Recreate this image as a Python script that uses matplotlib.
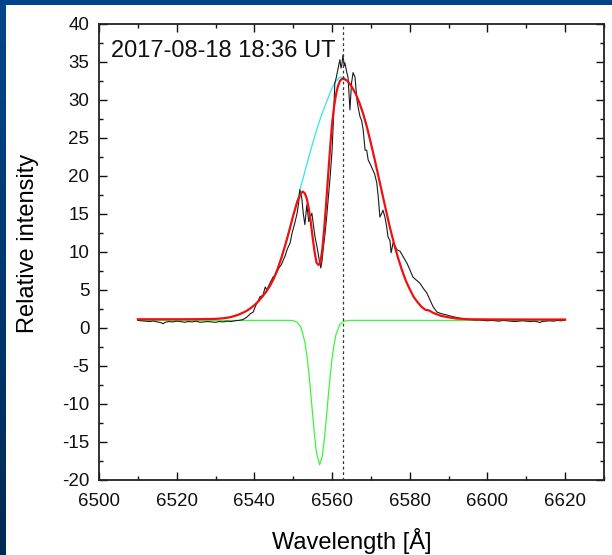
import numpy as np
import matplotlib
matplotlib.use("Agg")
import matplotlib.pyplot as plt
from matplotlib.ticker import MultipleLocator
from matplotlib.colors import LinearSegmentedColormap

plt.rcParams['font.family'] = ['Liberation Sans', 'DejaVu Sans']
plt.rcParams['axes.unicode_minus'] = False

# ---- observed spectrum (black) ----
obs_wl = [6510, 6511, 6512, 6513, 6514, 6515, 6516, 6516.5, 6517, 6518, 6519, 6520,
          6521, 6522, 6523, 6524, 6525, 6526, 6527, 6528, 6529, 6530, 6531, 6532,
          6533, 6534, 6535, 6536, 6537, 6538, 6539, 6539.7, 6540.3, 6541, 6541.4,
          6542.2, 6542.8, 6543.2, 6544, 6544.8, 6545.5, 6546.2, 6547, 6547.4, 6548,
          6548.4, 6549.2, 6549.7, 6550.3, 6551, 6551.4, 6551.7, 6552.2, 6552.6, 6553,
          6553.5, 6554, 6554.3, 6554.8, 6555.2, 6555.6, 6556, 6556.4, 6556.8, 6557.1,
          6557.4, 6557.7, 6558.2, 6558.6, 6559.1, 6559.5, 6560, 6560.4, 6560.7, 6561.1,
          6561.5, 6562, 6562.3, 6562.5, 6562.8, 6563.1, 6563.3, 6563.8, 6564.1, 6564.4,
          6564.6, 6564.8, 6565, 6565.4, 6565.9, 6566.4, 6566.8, 6567.2, 6567.6, 6568,
          6568.5, 6568.9, 6569.3, 6569.8, 6570.5, 6571, 6571.5, 6571.9, 6572.3, 6572.8,
          6573.1, 6573.6, 6574, 6574.4, 6574.9, 6575.2, 6575.7, 6576.2, 6576.7, 6577.5,
          6578.4, 6579.3, 6580, 6580.8, 6581.7, 6582.6, 6583.5, 6584.4, 6585.2, 6586,
          6587, 6588, 6589.6, 6591, 6592.9, 6594, 6595, 6596, 6597, 6598, 6599, 6600,
          6601, 6602, 6603, 6604, 6605, 6606, 6607, 6608, 6609, 6610, 6611, 6612, 6613,
          6613.5, 6614, 6615, 6616, 6617, 6618, 6619, 6620]
obs_int = [1.00, 0.95, 0.90, 0.85, 0.92, 0.80, 0.70, 0.55, 0.75, 0.85, 0.80, 0.90,
           0.85, 0.75, 0.85, 0.80, 0.90, 0.75, 0.80, 0.85, 0.80, 0.75, 0.85, 0.80,
           0.90, 0.85, 0.95, 1.00, 1.10, 1.40, 1.90, 2.1, 2.9, 3.6, 4.1,
           4.3, 5.4, 5.0, 5.9, 6.7, 7.0, 7.8, 8.4, 8.9, 9.6,
           10.3, 11.2, 12.5, 13.6, 15.1, 16.5, 18.2, 17.1, 15.0, 13.6,
           16.2, 14.0, 14.5, 15.1, 13.5, 12.0, 11.0, 9.9, 8.6, 7.9,
           8.8, 10.3, 12.5, 14.6, 17.5, 19.9, 23.4, 28.0, 32.2, 33.0,
           34.0, 35.3, 34.2, 34.6, 35.9, 34.5, 34.9, 33.6, 33.0, 30.5,
           28.7, 30.5, 32.2, 33.6, 33.0, 30.0, 28.8, 27.8, 27.3, 26.1,
           23.4, 23.4, 22.1, 21.6, 20.8, 20.2, 19.1, 17.2, 14.6, 15.1,
           15.5, 14.6, 13.5, 12.0, 11.5, 9.9, 11.2, 10.8, 10.3, 10.1,
           9.3, 8.5, 7.7, 6.7, 6.3, 5.9, 5.2, 4.6, 3.7, 2.8,
           2.1, 1.9, 1.7, 1.5, 1.3, 1.2, 1.15, 1.1, 1.05, 1.05, 1.0, 0.95,
           1.0, 0.95, 0.9, 1.0, 0.95, 0.9, 0.85, 0.9, 0.95, 0.9, 0.85, 0.9, 0.8,
           0.7, 0.85, 0.9, 0.95, 0.9, 1.0, 0.95, 1.05]

# ---- total fit (red) ----
fit_wl = [6510, 6515, 6520, 6525, 6530, 6532, 6533, 6534, 6535, 6536, 6537, 6538,
          6539, 6540, 6541, 6542, 6543, 6544, 6545, 6546, 6547, 6548, 6549, 6550,
          6551, 6552, 6552.5, 6553, 6553.5, 6554, 6554.5, 6555, 6555.5, 6556, 6556.5,
          6557, 6557.5, 6558, 6558.5, 6559, 6559.5, 6560, 6560.5, 6561, 6561.5, 6562,
          6562.5, 6563, 6564, 6565, 6566, 6567, 6568, 6569, 6570, 6571, 6572, 6573,
          6574, 6575, 6576, 6577, 6578, 6579, 6580, 6581, 6582, 6583, 6584, 6585,
          6586, 6587, 6588, 6589, 6590, 6592, 6595, 6600, 6610, 6620]
fit_int = [1.15, 1.15, 1.15, 1.16, 1.2, 1.28, 1.35, 1.45, 1.6, 1.78, 2.0, 2.25,
           2.6, 3.0, 3.5, 4.1, 4.75, 5.55, 6.5, 7.8, 9.3, 11.0, 12.85, 14.8,
           16.55, 17.75, 17.95, 17.7, 17.0, 15.7, 14.0, 11.9, 10.0, 8.6, 8.3,
           8.6, 10.4, 13.2, 16.6, 20.2, 23.7, 26.9, 29.1, 30.7, 31.8, 32.5,
           32.75, 32.8, 32.5, 31.8, 30.9, 29.7, 28.2, 26.4, 24.3, 22.1, 19.8, 17.5,
           15.2, 13.0, 11.0, 9.2, 7.6, 6.2, 5.1, 4.1, 3.4, 2.8, 2.4, 2.3,
           2.0, 1.8, 1.6, 1.5, 1.4, 1.25, 1.15, 1.13, 1.12, 1.12]

# ---- emission component (cyan) ----
em_wl = [6540, 6542, 6544, 6546, 6548, 6549, 6550, 6551, 6552, 6553, 6554, 6555,
         6556, 6557, 6558, 6559, 6560, 6561, 6562, 6563, 6564, 6565, 6566, 6568, 6570]
em_int = [3.0, 4.1, 5.55, 7.8, 11.0, 12.9, 14.85, 16.8, 18.7, 20.6, 22.5, 24.3,
          26.0, 27.6, 29.0, 30.3, 31.6, 32.5, 33.0, 33.0, 32.5, 31.8, 30.9, 28.2, 24.3]

# ---- absorption component (green) ----
ab_wl = [6510, 6545, 6549, 6550, 6551, 6552, 6553, 6553.5, 6554, 6554.5, 6555, 6555.5,
         6556, 6556.8, 6557.5, 6558, 6558.5, 6559, 6559.5, 6560, 6560.5, 6561, 6562,
         6563, 6564, 6565, 6620]
ab_int = [1.0, 1.0, 1.0, 0.96, 0.77, 0.08, -1.84, -3.6, -5.78, -8.5, -11.41, -14.2,
          -16.47, -18.0, -16.81, -14.72, -12.0, -9.06, -6.4, -3.94, -2.2, -0.87, 0.46,
          0.88, 0.98, 1.0, 1.0]

halpha = 6562.8
annotation = "2017-08-18 18:36 UT"

W, H = 612, 555
fig = plt.figure(figsize=(W / 100, H / 100), dpi=100)

# slide-like blue frame (top and left)
cmap = LinearSegmentedColormap.from_list('fr', ['#04468a', '#002a55'])
axl = fig.add_axes([0, 0, 6 / W, 1])
axl.imshow(np.linspace(0, 1, 100).reshape(-1, 1), aspect='auto', cmap=cmap)
axl.axis('off')
axt = fig.add_axes([0, 1 - 5 / H, 1, 5 / H])
axt.set_facecolor('#03428a')
axt.set_xticks([]); axt.set_yticks([])
for s in axt.spines.values():
    s.set_visible(False)

ax = fig.add_axes([99 / W, (H - 480) / H, (604 - 99) / W, (480 - 24) / H])
ax.plot(ab_wl, ab_int, color='#3cf53c', lw=0.9, zorder=2)
ax.plot(em_wl, em_int, color='#2ee6f0', lw=0.9, zorder=3)
ax.plot(obs_wl, obs_int, color='#1a1a1a', lw=0.8, zorder=4)
ax.plot(fit_wl, fit_int, color='#f01010', lw=1.6, zorder=5)
ax.axvline(halpha, color='#333333', lw=0.9, ls=(0, (2.2, 2.2)), zorder=6)

ax.set_xlim(6500, 6630)
ax.set_ylim(-20, 40)
ax.xaxis.set_major_locator(MultipleLocator(20))
ax.xaxis.set_minor_locator(MultipleLocator(10))
ax.yaxis.set_major_locator(MultipleLocator(5))
ax.yaxis.set_minor_locator(MultipleLocator(2.5))
ax.set_xticks(np.arange(6500, 6621, 20))
ax.tick_params(which='both', direction='in', top=True, right=True, width=1.0,
               labelsize=13.5, colors='#111111')
ax.tick_params(which='major', length=6)
ax.tick_params(which='minor', length=3)
ax.tick_params(axis='x', pad=9)
ax.tick_params(axis='y', pad=7)
for s in ax.spines.values():
    s.set_linewidth(1.3)
    s.set_color('#222222')

ax.set_xlabel('Wavelength [Å]', fontsize=17, va='center')
ax.xaxis.set_label_coords(0.5, (480 - 541) / 456)
ax.set_ylabel('Relative intensity', fontsize=17, va='center')
ax.yaxis.set_label_coords((28 - 99) / 505, (480 - 243) / 456)

ax.text((111 - 99) / 505, (480 - 51) / 456, annotation, transform=ax.transAxes,
        fontsize=17, ha='left', va='center', color='#111111', zorder=7)

fig.savefig('out.png', dpi=100)
